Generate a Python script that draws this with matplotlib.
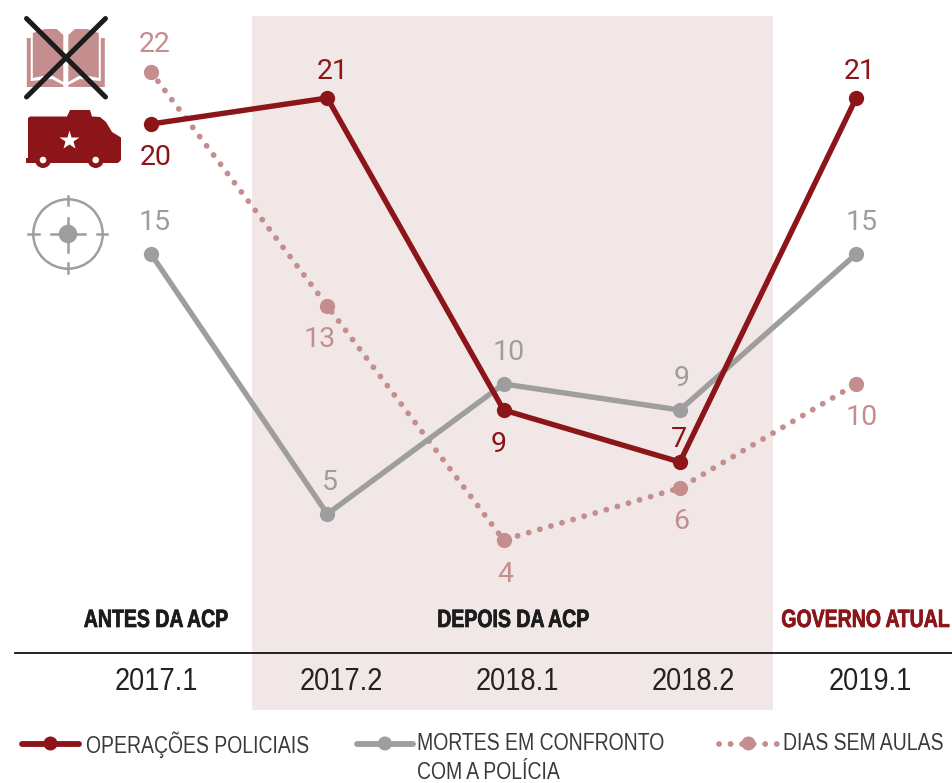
import matplotlib
matplotlib.use('Agg')
import matplotlib.pyplot as plt
import matplotlib.patheffects as pe
from matplotlib import font_manager as fm
from matplotlib.font_manager import FontProperties
from matplotlib.patches import Rectangle, Circle, Polygon
from matplotlib.lines import Line2D

periods = ['2017.1', '2017.2', '2018.1', '2018.2', '2019.1']
operacoes = [20, 21, 9, 7, 21]
mortes = [15, 5, 10, 9, 15]
dias = [22, 13, 4, 6, 10]
phases = ['ANTES DA ACP', 'DEPOIS DA ACP', 'GOVERNO ATUAL']
legend_labels = ['OPERAÇÕES POLICIAIS', 'MORTES EM CONFRONTO\nCOM A POLÍCIA', 'DIAS SEM AULAS']

RED = '#8b1518'; GRAY = '#9e9e9e'; PINK = '#c58e8e'; BAND = '#f2e7e7'; BLACK = '#1c1c1c'


def condensed(weight, sx, out):
    """A horizontally narrowed copy of Liberation Sans, used as an ordinary font."""
    src = fm.findfont(FontProperties(family='Liberation Sans', weight=weight))
    try:
        from fontTools.ttLib import TTFont
        f = TTFont(src)
        glyf = f['glyf']
        for name in glyf.keys():
            g = glyf[name]
            if g.isComposite():
                for c in g.components:
                    c.x = int(round(c.x * sx))
            elif g.numberOfContours > 0:
                g.coordinates.scale((sx, 1))
            if hasattr(g, 'program'):
                g.program.fromBytecode(b'')
        for name in glyf.keys():
            glyf[name].recalcBounds(glyf)
        hm = f['hmtx'].metrics
        for k, (a, l) in hm.items():
            hm[k] = (int(round(a * sx)), int(round(l * sx)))
        for t in ('fpgm', 'prep', 'cvt ', 'hdmx', 'VDMX', 'LTSH'):
            if t in f:
                del f[t]
        f.save(out)
        return FontProperties(fname=out)
    except Exception as e:
        print('fallback', e)
        return FontProperties(fname=src)


LEG_FONT = condensed('normal', 0.80, 'leg.ttf')
TICK_FONT = condensed('normal', 0.85, 'tick.ttf')
HEAD_FONT = condensed('bold', 0.78, 'head.ttf')

W, H = 952, 783
fig = plt.figure(figsize=(W/100, H/100), dpi=100, facecolor='white')
bg = fig.add_axes([0, 0, 1, 1]); bg.set_xlim(0, W); bg.set_ylim(H, 0); bg.axis('off')
ax = fig.add_axes([0, 0, 1, 1], facecolor='none')
ax.set_xlim(-151/176.3, (W-151)/176.3); ax.set_ylim((644-H)/26, 644/26); ax.axis('off')
top = fig.add_axes([0, 0, 1, 1], facecolor='none')
top.set_xlim(0, W); top.set_ylim(H, 0); top.axis('off')

# band and baseline
bg.add_patch(Rectangle((252, 16), 521, 694, fc=BAND, ec='none'))
bg.plot([15, W], [653, 653], color='#111111', lw=1.3)

xs = range(len(periods))
DOTS = (0, (0.01, 1.97))
ax.plot(xs, dias, color=PINK, lw=4.2, ls=DOTS, dash_capstyle='round', zorder=2)
ax.plot(xs, dias, ls='none', marker='o', ms=11, color=PINK, mew=0, zorder=2)
ax.plot(xs, mortes, color=GRAY, lw=3.9, marker='o', ms=11, mew=0, zorder=3)
ax.plot(xs, operacoes, color=RED, lw=3.9, marker='o', ms=11, mew=0, zorder=4)


# value labels: pixel offsets from the point (up is positive)
def lab(series, offs, color):
    for i, (v, (dx, dy)) in enumerate(zip(series, offs)):
        ax.annotate(str(v), (i, v), xytext=(dx, dy - 2.5), textcoords='offset pixels', ha='center', va='center',
                    color=color, family='Roboto', fontsize=20.5, zorder=6)


lab(operacoes, [(5, -31), (5, 29), (-5, -32), (-1, 25), (4, 29)], RED)
lab(mortes, [(4, 34), (3, 34), (5, 34), (2, 34), (5, 34)], GRAY)
lab(dias, [(4, 30), (-8, -31), (2, -32), (1, -31), (5, -31)], PINK)

# phases
for cx, t, c in zip([156, 513, 865.5], phases, [BLACK, BLACK, RED]):
    bg.text(cx, 620, t, ha='center', va='center', fontproperties=HEAD_FONT, fontsize=18, color=c,
            path_effects=[pe.withStroke(linewidth=0.5, foreground=c)])

# periods
for i, (p, dx) in enumerate(zip(periods, [5, 14, 13.5, 13, 14])):
    ax.annotate(p, (i, 0), xytext=(dx, 644 - 682), textcoords='offset pixels', ha='center', va='center',
                fontproperties=TICK_FONT, fontsize=23, color='#222222')


# legend
def leg(x0, x1, c, dotted=False):
    if dotted:
        top.add_line(Line2D([x0, x1], [743.5, 743.5], color=c, lw=4.2, ls=DOTS, dash_capstyle='round'))
    else:
        top.add_line(Line2D([x0, x1], [743.5, 743.5], color=c, lw=4.2, solid_capstyle='round'))
    top.add_patch(Circle(((x0+x1)/2, 743.5), 7, fc=c, ec='none'))


leg(22, 79, RED); leg(357, 413, GRAY); leg(719, 778, PINK, True)
kw = dict(fontproperties=LEG_FONT, fontsize=17.5, color='#3a3a3a', va='center', ha='left')
top.text(86, 744.5, legend_labels[0], **kw)
l1, l2 = legend_labels[1].split('\n')
top.text(417, 744.5, l1, **kw); top.text(417, 773, l2, **kw)
top.text(783, 744.5, legend_labels[2], **kw)

# book icon
c = 65.8
for s in (-1, 1):
    top.add_patch(Polygon([(c+s*2.5, 35), (c+s*9, 29), (c+s*21, 29), (c+s*33, 33), (c+s*33, 78),
                           (c+s*23, 76), (c+s*13, 76), (c+s*2.5, 82)], fc=PINK, ec='none'))
    top.add_patch(Polygon([(c+s*35, 38), (c+s*39, 38), (c+s*39, 87), (c+s*2.5, 87), (c+s*2.5, 85),
                           (c+s*14, 79), (c+s*35, 81)], fc=PINK, ec='none'))
top.plot([26.5, 105.5], [18.5, 97], color=BLACK, lw=3.6, solid_capstyle='round')
top.plot([105.5, 26.5], [18.5, 97], color=BLACK, lw=3.6, solid_capstyle='round')

# armoured vehicle icon
top.add_patch(Polygon([(28, 118), (30, 116.5), (67, 116.5), (70, 110), (90, 110), (92, 116.5), (100, 117), (106, 122),
                       (112, 132), (121, 137.5), (121, 160), (118, 163), (28, 163)], fc=RED, ec='none'))
top.add_patch(Rectangle((25.5, 157.5), 5, 5, fc=RED, ec='none'))
for cx in (43, 95.7):
    top.add_patch(Circle((cx, 160), 8, fc=RED, ec='none'))
    top.add_patch(Circle((cx, 160), 3.3, fc='white', ec='none', zorder=5))
top.plot([69], [140], marker='*', ms=15, color='white', mec='none')

# target icon
top.add_patch(Circle((68, 234), 34.7, fc='none', ec=GRAY, lw=1.8))
top.add_patch(Circle((68, 234), 9.3, fc=GRAY, ec='none'))
for a, b in [((68, 196), (68, 205)), ((68, 263), (68, 273)), ((28, 234), (39, 234)), ((97, 234), (107, 234)),
             ((68, 218), (68, 252)), ((51, 234), (85, 234))]:
    top.plot([a[0], b[0]], [a[1], b[1]], color=GRAY, lw=1.8)

fig.savefig('out.png', dpi=100)
